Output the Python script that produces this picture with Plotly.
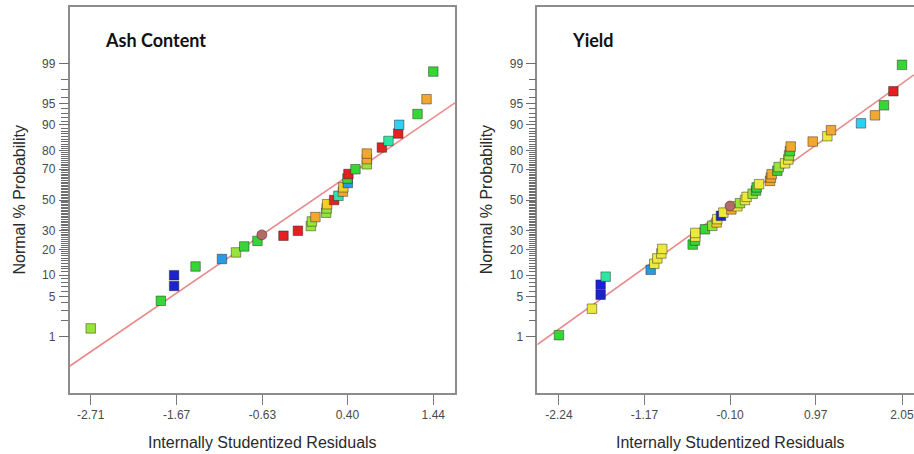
from statistics import NormalDist
import plotly.graph_objects as go

# ---------------- data ----------------
# Ash Content: internally studentized residuals (sorted) and normal % probability
ash_resid = [-2.71, -1.86, -1.70, -1.70, -1.44, -1.12, -0.95, -0.85, -0.69, -0.375,
             -0.20, -0.043, -0.031, 0.012, 0.142, 0.148, 0.154, 0.239, 0.291, 0.345,
             0.35, 0.405, 0.40, 0.412, 0.497, 0.635, 0.635, 0.635, 0.817, 0.897,
             1.015, 1.027, 1.249, 1.358, 1.44]
ash_prob = [1.43, 4.29, 7.14, 10.0, 12.86, 15.71, 18.57, 21.43, 24.29, 27.14,
            30.0, 32.86, 35.71, 38.57, 41.43, 44.29, 47.14, 50.0, 52.86, 55.71,
            58.57, 61.43, 64.29, 67.14, 70.0, 72.86, 75.71, 78.57, 81.43, 84.29,
            87.14, 90.0, 92.86, 95.71, 98.57]
# response level of each run (0 = low ... 9 = high) used for point colouring
ash_level = [5, 4, 0, 0, 4, 1, 5, 4, 4, 9,
             9, 5, 5, 8, 5, 5, 7, 9, 3, 8,
             7, 1, 4, 9, 4, 5, 8, 8, 9, 3,
             9, 2, 4, 8, 4]
ash_sel_resid = [-0.637]
ash_sel_prob = [27.6]
ash_ticks = [-2.71, -1.67, -0.63, 0.40, 1.44]
ash_tick_text = ["-2.71", "-1.67", "-0.63", "0.40", "1.44"]
ash_fit_slope, ash_fit_intercept = 0.9615, 0.018

# Yield
yield_resid = [-2.24, -1.827, -1.719, -1.719, -1.656, -1.093, -1.048, -1.010, -0.960, -0.948,
               -0.568, -0.539, -0.535, -0.535, -0.414, -0.322, -0.268, -0.260, -0.214, -0.184,
               -0.084, -0.009, 0.024, 0.087, 0.107, 0.182, 0.224, 0.232, 0.262, 0.399,
               0.41, 0.420, 0.491, 0.508, 0.587, 0.628, 0.637, 0.649, 0.658, 0.933,
               1.116, 1.162, 1.537, 1.712, 1.825, 1.942, 2.05]
yield_prob = [1.06, 3.19, 5.32, 7.45, 9.57, 11.70, 13.83, 15.96, 18.09, 20.21,
              22.34, 24.47, 26.60, 28.72, 30.85, 32.98, 35.11, 37.23, 39.36, 41.49,
              43.62, 45.74, 47.87, 50.0, 52.13, 54.26, 56.38, 58.51, 60.64, 62.77,
              64.89, 67.02, 69.15, 71.28, 73.40, 75.53, 77.66, 79.79, 81.91, 84.04,
              86.17, 88.30, 90.43, 92.55, 94.68, 96.81, 98.94]
yield_level = [4, 6, 0, 0, 3, 1, 6, 6, 6, 6,
               4, 4, 6, 6, 4, 5, 7, 6, 0, 6,
               8, 6, 5, 6, 6, 5, 4, 4, 6, 8,
               8, 8, 4, 5, 6, 6, 5, 4, 8, 8,
               6, 8, 2, 8, 4, 9, 4]
yield_sel_resid = [-0.101]
yield_sel_prob = [45.9]
yield_ticks = [-2.24, -1.17, -0.10, 0.97, 2.05]
yield_tick_text = ["-2.24", "-1.17", "-0.10", "0.97", "2.05"]
yield_fit_slope, yield_fit_intercept = 0.9764, -0.014

prob_ticks = [1, 5, 10, 20, 30, 50, 70, 80, 90, 95, 99]
prob_minor_ticks = list(range(1, 100))

# ---------------- styling ----------------
W, H = 914, 454
level_colors = ["#1a22d2", "#2a9ae6", "#2ed0f0", "#30e4a4", "#36d636",
                "#98e43a", "#ece83c", "#f6cc28", "#f2a82e", "#e42020"]
colorscale = [[i / (len(level_colors) - 1), c] for i, c in enumerate(level_colors)]
frame_col = "#8c8c8c"
tick_font = dict(family="Liberation Sans, Arial, sans-serif", size=12, color="#4a4a4a")
title_font = dict(family="Liberation Sans, Arial, sans-serif", size=16, color="#2a2a2a")
head_font = dict(family="Lato, Carlito, Calibri, sans-serif", size=18, color="#111111")
MINOR_LEN, MAJOR_LEN = 7, 10  # px

nd = NormalDist()


def z(p):
    return nd.inv_cdf(p / 100.0)


y_range = [z(0.05), z(99.95)]


def px(x):
    return x / W


def py(y):
    return 1 - y / H


panels = [
    dict(name="Ash Content", resid=ash_resid, prob=ash_prob, level=ash_level,
         sel_x=ash_sel_resid, sel_p=ash_sel_prob, ticks=ash_ticks, ticktext=ash_tick_text,
         slope=ash_fit_slope, icpt=ash_fit_intercept, xrange=[-2.967, 1.703],
         dom=[69.5, 455.0], right_line=True),
    dict(name="Yield", resid=yield_resid, prob=yield_prob, level=yield_level,
         sel_x=yield_sel_resid, sel_p=yield_sel_prob, ticks=yield_ticks, ticktext=yield_tick_text,
         slope=yield_fit_slope, icpt=yield_fit_intercept, xrange=[-2.511, 2.200],
         dom=[537.3, 914.0], right_line=False),
]
PANEL_W = 385.5  # full frame width of one panel, px

fig = go.Figure()
layout = dict(
    width=W, height=H, margin=dict(l=0, r=0, t=0, b=0),
    paper_bgcolor="white", plot_bgcolor="white", showlegend=False,
    annotations=[],
)
top_px, bot_px = 7.0, 393.0

for k, pnl in enumerate(panels, start=1):
    xa = "x" if k == 1 else f"x{k}"
    ya = "y" if k == 1 else f"y{k}"
    ya_major = f"y{k + 2}"
    x0, x1 = pnl["xrange"]
    l, r = pnl["dom"]

    # placeholder so the long major-tick probability axis is drawn
    fig.add_trace(go.Scatter(x=[None], y=[None], mode="markers", xaxis=xa, yaxis=ya_major,
                             hoverinfo="skip"))
    # fitted normal line
    fig.add_trace(go.Scatter(
        x=[x0, x1], y=[pnl["icpt"] + pnl["slope"] * x0, pnl["icpt"] + pnl["slope"] * x1],
        mode="lines", line=dict(color="#e88a8a", width=1.6),
        xaxis=xa, yaxis=ya, hoverinfo="skip"))
    # residual points
    fig.add_trace(go.Scatter(
        x=pnl["resid"], y=[z(p) for p in pnl["prob"]], mode="markers",
        marker=dict(symbol="square", size=9.5, color=pnl["level"], colorscale=colorscale,
                    cmin=0, cmax=len(level_colors) - 1,
                    line=dict(color="rgba(30,30,30,0.45)", width=1)),
        xaxis=xa, yaxis=ya))
    # highlighted run
    fig.add_trace(go.Scatter(
        x=pnl["sel_x"], y=[z(p) for p in pnl["sel_p"]], mode="markers",
        marker=dict(symbol="circle", size=10, color="#b46a6a",
                    line=dict(color="rgba(60,30,30,0.5)", width=1)),
        xaxis=xa, yaxis=ya))

    dom_y = [py(bot_px), py(top_px)]
    layout["xaxis" if k == 1 else f"xaxis{k}"] = dict(
        domain=[px(l), px(r)], range=pnl["xrange"], anchor=ya,
        tickmode="array", tickvals=pnl["ticks"], ticktext=pnl["ticktext"],
        ticks="outside", ticklen=10, tickwidth=1, tickcolor="#7a7a7a",
        showline=True, linecolor=frame_col, linewidth=1.5, mirror=True,
        showgrid=False, zeroline=False, tickfont=tick_font, automargin=False,
        ticklabeloverflow="allow")
    # main probability axis: a tick at every whole percent, labels on the major ones
    major_set = set(prob_ticks)
    layout["yaxis" if k == 1 else f"yaxis{k}"] = dict(
        domain=dom_y, range=y_range, anchor=xa,
        tickmode="array", tickvals=[z(p) for p in prob_minor_ticks],
        ticktext=[str(p) if p in major_set else "" for p in prob_minor_ticks],
        ticks="outside", ticklen=MINOR_LEN, tickwidth=1, tickcolor="#6e6e6e",
        ticklabelstandoff=MAJOR_LEN - MINOR_LEN,
        showline=True, linecolor=frame_col, linewidth=1.5,
        mirror=pnl["right_line"],
        showgrid=False, zeroline=False, tickfont=tick_font, automargin=False)
    # overlaid axis adding the longer major ticks
    layout[f"yaxis{k + 2}"] = dict(
        range=y_range, anchor=xa, overlaying=ya, side="left",
        tickmode="array", tickvals=[z(p) for p in prob_ticks],
        ticks="outside", ticklen=MAJOR_LEN, tickwidth=1, tickcolor="#6e6e6e",
        showticklabels=False, showline=False, showgrid=False, zeroline=False,
        automargin=False, fixedrange=True)

    mid = l + PANEL_W / 2
    layout["annotations"] += [
        dict(text=f"<b>{pnl['name']}</b>", x=px(l + 33), y=py(40), xref="paper", yref="paper",
             xanchor="left", yanchor="middle", showarrow=False, font=head_font),
        dict(text="Internally Studentized Residuals", x=px(mid), y=py(442),
             xref="paper", yref="paper", xanchor="center", yanchor="middle",
             showarrow=False, font=title_font),
        dict(text="Normal % Probability", x=px(l - 51), y=py(200), textangle=-90,
             xref="paper", yref="paper", xanchor="center", yanchor="middle",
             showarrow=False, font=title_font),
    ]

fig.update_layout(**layout)
fig.write_html("out.html")
